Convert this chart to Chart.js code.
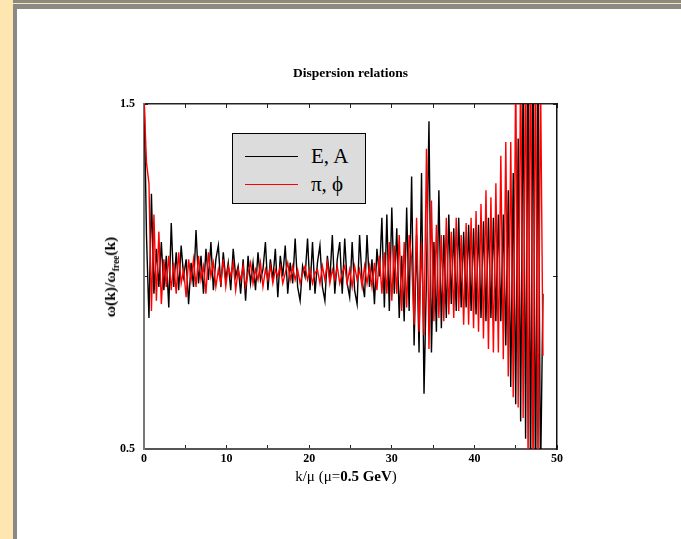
<!doctype html>
<html>
<head>
  <meta charset="utf-8">
  <title>Dispersion relations</title>
  <script src="https://cdn.jsdelivr.net/npm/chart.js@4.4.1/dist/chart.umd.min.js"></script>
  <style>
    body { margin: 0; width: 681px; height: 539px; position: relative; overflow: hidden; background: #fff; font-family: "Liberation Serif", "Times New Roman", serif; }
    .strip { position: absolute; left: 0; top: 0; width: 13px; height: 539px; background: #fee6b1; }
    .bar { position: absolute; left: 13px; top: 0; right: 0; height: 9px; background: #8b8984; }
    .barline { position: absolute; left: 13px; top: 3px; right: 0; height: 1px; background: #fee6b1; }
    .side { position: absolute; left: 13px; top: 4px; width: 4px; bottom: 0; background: #8b8984; }
    #myChart { position: absolute; left: 0; top: 0; }
    #legend { position: absolute; left: 232px; top: 133px; width: 134px; height: 71px; background: #dcdcdc; border: 1px solid #000; padding-top: 8px; box-sizing: border-box; }
    #legend .row { height: 28px; display: flex; align-items: center; font-size: 21px; color: #000; }
    #legend .swatch { display: inline-block; width: 53px; height: 1px; margin-left: 12px; margin-right: 13px; }
    .ytitle { position: absolute; left: 111px; top: 277px; transform: translate(-50%, -50%) rotate(-90deg); white-space: nowrap; font-weight: bold; font-size: 15.5px; }
    .ytitle sub { font-size: 9.5px; }
    .xtitle { position: absolute; left: 346px; top: 476px; transform: translate(-50%, -50%); white-space: nowrap; font-size: 15px; }
  </style>
</head>
<body>
  <div class="strip"></div>
  <div class="bar"></div>
  <div class="barline"></div>
  <div class="side"></div>
  <canvas id="myChart" width="681" height="539"></canvas>
  <div id="legend"></div>
  <div class="ytitle">ω(k)/ω<sub>free</sub>(k)</div>
  <div class="xtitle">k/μ (μ=<b>0.5 GeV</b>)</div>

  <script>
    // momentum grid k/mu
    var kValues = [
      0,0.3,0.6,0.9,1.2,1.5,1.8,2.1,2.4,2.7,
      3,3.3,3.6,3.9,4.2,4.5,4.8,5.1,5.4,5.7,
      6,6.3,6.6,6.9,7.2,7.5,7.8,8.1,8.4,8.7,
      9,9.3,9.6,9.9,10.2,10.5,10.8,11.1,11.4,11.7,
      12,12.3,12.6,12.9,13.2,13.5,13.8,14.1,14.4,14.7,
      15,15.3,15.6,15.9,16.2,16.5,16.8,17.1,17.4,17.7,
      18,18.3,18.6,18.9,19.2,19.5,19.8,20.1,20.4,20.7,
      21,21.3,21.6,21.9,22.2,22.5,22.8,23.1,23.4,23.7,
      24,24.3,24.6,24.9,25.2,25.5,25.8,26.1,26.4,26.7,
      27,27.3,27.6,27.9,28.2,28.5,28.8,29.1,29.4,29.7,
      30,30.3,30.6,30.9,31.2,31.5,31.8,32.1,32.4,32.7,
      33,33.3,33.6,33.9,34.2,34.5,34.8,35.1,35.4,35.7,
      36,36.3,36.6,36.9,37.2,37.5,37.8,38.1,38.4,38.7,
      39,39.3,39.6,39.9,40.2,40.5,40.8,41.1,41.4,41.7,
      42,42.3,42.6,42.9,43.2,43.5,43.8,44.1,44.4,44.7,
      45,45.3,45.6,45.9,46.2,46.5,46.8,47.1,47.4,47.7,
      48,48.3
    ];

    // omega(k)/omega_free(k) for E, A
    var seriesEA = [
      1.55,1.12,0.88,1.24,0.95,1.08,0.97,1.10,0.96,1.06,
      0.91,1.155,0.97,1.07,0.96,1.09,1.00,1.05,0.92,1.04,
      0.97,1.135,0.98,1.06,0.95,1.08,0.99,1.10,0.96,1.05,
      1.09,0.97,1.07,0.99,1.04,0.96,1.08,1.00,1.03,0.95,
      1.05,0.93,1.06,0.98,1.04,0.96,1.07,0.99,1.02,1.10,
      0.96,1.05,0.99,1.08,0.94,1.06,1.00,1.09,0.95,1.04,
      0.98,1.11,0.97,0.93,1.03,1.00,1.11,0.96,1.10,0.95,
      1.04,1.09,0.97,0.93,1.06,0.99,1.12,0.95,1.05,1.10,
      0.95,1.11,0.98,0.94,1.10,0.96,0.92,1.12,0.99,0.94,
      1.12,0.97,1.05,0.92,1.08,1.00,1.17,0.91,1.18,0.90,
      1.20,0.95,1.14,0.88,1.06,0.87,1.20,0.90,1.29,0.80,
      1.12,0.78,1.30,0.66,1.00,1.45,0.78,1.10,0.84,1.25,
      0.85,1.12,0.88,1.18,0.92,1.14,0.90,1.17,0.91,1.13,
      0.91,1.15,0.90,1.14,0.89,1.15,0.88,1.16,0.87,1.17,
      0.88,1.17,0.87,1.18,0.87,1.18,0.80,1.25,0.68,1.30,
      0.63,1.40,0.58,1.60,0.53,1.65,0.40,1.70,0.35,1.60,
      0.40,0.95
    ];

    // omega(k)/omega_free(k) for pi, phi
    var seriesPiPhi = [
      1.52,1.33,1.27,0.90,1.18,0.93,1.13,0.92,1.05,0.97,
      1.06,0.96,1.04,0.95,1.07,0.98,1.02,0.94,1.05,0.99,
      1.05,0.97,1.06,0.99,1.03,0.95,1.07,1.00,1.04,0.97,
      1.02,0.98,1.05,0.97,1.03,1.00,1.04,0.96,1.02,0.99,
      1.03,0.97,1.01,1.04,0.98,1.02,0.99,1.04,0.97,1.02,
      0.99,1.03,0.98,1.02,1.00,1.03,0.98,1.01,1.04,0.99,
      1.03,0.99,1.02,0.98,1.01,1.03,0.99,1.02,0.98,1.01,
      1.02,0.98,1.03,0.99,1.04,0.98,1.02,0.99,1.03,0.98,
      1.01,1.03,0.98,1.02,0.97,1.03,0.99,1.02,0.97,1.03,
      0.98,1.03,0.97,1.04,0.96,1.06,0.95,1.07,0.95,1.10,
      0.93,1.09,0.95,1.12,0.90,1.10,0.91,1.12,1.05,0.86,
      1.17,0.84,1.10,0.83,1.37,0.79,1.22,0.87,1.15,0.88,
      1.12,0.87,1.17,0.89,1.13,0.88,1.17,0.90,1.12,0.86,
      1.155,0.86,1.17,0.85,1.19,0.84,1.21,0.82,1.25,0.79,
      1.23,0.78,1.27,0.78,1.35,0.76,1.39,0.71,1.39,0.65,
      1.60,0.62,1.65,0.59,1.70,0.45,1.75,0.40,1.70,0.42,
      1.60,0.77
    ];

    var seriesLabels = ['E, A', 'π, ϕ'];
    var xLabelTicks = [0, 10, 20, 30, 40, 50];
    var yLabelTicks = [0.5, 1.5];

    function toPoints(ys) {
      return ys.map(function (y, i) { return { x: kValues[i], y: y }; });
    }

    var serif = '"Liberation Serif", "Times New Roman", serif';
    var tickFont = { family: serif, size: 12, weight: 'bold' };

    // ticks point inwards, labels only on some of them
    function axisGrid() {
      return { drawOnChartArea: false, tickLength: -4, color: '#222', lineWidth: 1 };
    }

    var ctx = document.getElementById('myChart').getContext('2d');
    var chart = new Chart(ctx, {
      type: 'line',
      data: {
        datasets: [{
          label: seriesLabels[0],
          data: toPoints(seriesEA),
          borderColor: '#000000',
          borderWidth: 1.4,
          pointRadius: 0,
          tension: 0,
          order: 1
        }, {
          label: seriesLabels[1],
          data: toPoints(seriesPiPhi),
          borderColor: '#ff0000',
          borderWidth: 1.4,
          pointRadius: 0,
          tension: 0,
          order: 0
        }]
      },
      options: {
        responsive: false,
        animation: false,
        layout: { padding: { left: 104, right: 84, top: 0, bottom: 60 } },
        plugins: {
          legend: { display: false },
          tooltip: { enabled: false },
          title: {
            display: true,
            text: 'Dispersion relations',
            color: '#000',
            font: { family: serif, size: 13.5, weight: 'bold', lineHeight: 1.2 },
            padding: { top: 65, bottom: 22.8 }
          }
        },
        scales: {
          x: {
            type: 'linear', position: 'bottom', min: 0, max: 50,
            ticks: {
              stepSize: 5, autoSkip: false, maxRotation: 0, color: '#000', font: tickFont, padding: 7,
              callback: function (v) { return xLabelTicks.indexOf(v) >= 0 ? String(v) : ''; }
            },
            grid: axisGrid(),
            border: { color: '#555', width: 2 },
            afterFit: function (s) { s.height = 30; }
          },
          xTop: {
            type: 'linear', position: 'top', min: 0, max: 50,
            ticks: { stepSize: 5, autoSkip: false, display: false },
            grid: axisGrid(),
            border: { color: '#222', width: 1.5 },
            afterFit: function (s) { s.height = 0; }
          },
          y: {
            type: 'linear', position: 'left', min: 0.5, max: 1.5,
            ticks: {
              stepSize: 0.5, color: '#000', font: tickFont, padding: 13,
              callback: function (v) { return yLabelTicks.indexOf(v) >= 0 ? v.toFixed(1) : ''; }
            },
            grid: axisGrid(),
            border: { color: '#777', width: 2 },
            afterFit: function (s) { s.width = 40; }
          },
          yRight: {
            type: 'linear', position: 'right', min: 0.5, max: 1.5,
            ticks: { stepSize: 0.5, display: false },
            grid: axisGrid(),
            border: { color: '#111', width: 1.5 },
            afterFit: function (s) { s.width = 40; }
          }
        }
      }
    });

    // legend box built from the datasets
    var legend = document.getElementById('legend');
    chart.data.datasets.forEach(function (ds) {
      var row = document.createElement('div');
      row.className = 'row';
      row.innerHTML = '<span class="swatch" style="background:' + ds.borderColor + '"></span><span>' + ds.label + '</span>';
      legend.appendChild(row);
    });
  </script>
</body>
</html>
